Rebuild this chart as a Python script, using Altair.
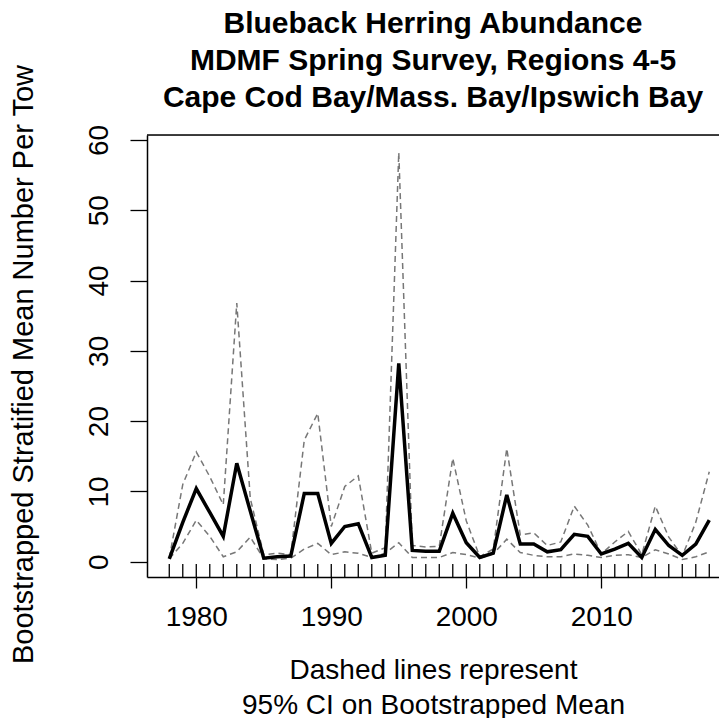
import altair as alt
import pandas as pd

years = list(range(1978, 2019))
mean_vals = [0.4, 5.6, 10.4, 7.0, 3.6, 14.0, 7.2, 0.5, 0.7, 0.8,
             9.7, 9.7, 2.6, 5.0, 5.4, 0.6, 0.9, 28.2, 1.6, 1.5,
             1.5, 6.9, 2.7, 0.6, 1.2, 9.5, 2.5, 2.5, 1.4, 1.7,
             3.9, 3.6, 1.1, 1.8, 2.6, 0.6, 4.6, 2.3, 0.9, 2.5, 5.9]
upper_vals = [0.5, 11.0, 15.6, 12.1, 8.1, 36.8, 9.0, 1.0, 1.2, 1.0,
              17.3, 21.1, 5.0, 10.7, 12.2, 1.2, 2.0, 58.2, 2.3, 2.1,
              2.2, 14.7, 5.8, 0.7, 1.8, 16.1, 3.8, 4.1, 2.3, 2.8,
              7.9, 5.2, 1.1, 2.8, 4.3, 1.0, 7.9, 3.5, 0.8, 5.6, 12.8]
lower_vals = [0.4, 2.6, 5.9, 3.6, 0.7, 1.4, 3.5, 0.4, 0.3, 0.5,
              1.8, 2.6, 1.0, 1.4, 1.2, 0.6, 1.2, 2.7, 0.6, 0.6,
              0.6, 1.3, 1.0, 0.5, 1.1, 3.2, 1.3, 0.9, 0.7, 0.7,
              1.1, 0.9, 0.6, 0.9, 1.0, 0.6, 1.7, 1.1, 0.3, 0.7, 1.4]

x_ticks = [1980, 1990, 2000, 2010]
y_ticks = [0, 10, 20, 30, 40, 50, 60]

title_lines = ["Blueback Herring Abundance",
               "MDMF Spring Survey, Regions 4-5",
               "Cape Cod Bay/Mass. Bay/Ipswich Bay"]
x_title = ["Dashed lines represent", "95% CI on Bootstrapped Mean"]
y_title = "Bootstrapped Stratified Mean Number Per Tow"

W, H = 572, 442
FONT = "Liberation Sans"

df = pd.DataFrame({"year": years, "mean": mean_vals,
                   "upper": upper_vals, "lower": lower_vals})

xscale = alt.Scale(domain=[1976.35, 1976.35 + W / 13.5], nice=False, zero=False)
yscale = alt.Scale(domain=[-2.18, 60.7], nice=False, zero=False)

xaxis = alt.Axis(values=x_ticks, format="d", tickSize=11, tickColor="black",
                 tickWidth=1.3, domainColor="black", domainWidth=1.5,
                 labelFont=FONT, labelFontSize=28, labelColor="black",
                 labelPadding=15, labelFlush=False, labelOverlap=False,
                 grid=False, title=x_title, titleFont=FONT, titleFontSize=28,
                 titleFontWeight="normal", titleColor="black",
                 titleX=W / 2, titleY=79, titleAlign="center",
                 titleBaseline="top", titleLineHeight=35)
yaxis = alt.Axis(values=y_ticks, tickSize=17, tickColor="black",
                 tickWidth=1.3, domainColor="black", domainWidth=1.5,
                 labelFont=FONT, labelFontSize=28, labelColor="black",
                 labelAngle=270, labelAlign="center",
                 labelBaseline="alphabetic", labelPadding=23,
                 labelFlush=False, labelOverlap=False, grid=False,
                 title=y_title, titleFont=FONT, titleFontSize=29,
                 titleFontWeight="normal", titleColor="black",
                 titleAngle=270, titleX=-115, titleY=229,
                 titleAlign="center", titleBaseline="alphabetic")

base = alt.Chart(df)

upper = base.mark_line(color="#777777", strokeWidth=1.5, strokeDash=[6, 4]).encode(
    x=alt.X("year:Q", scale=xscale, axis=xaxis),
    y=alt.Y("upper:Q", scale=yscale, axis=yaxis))
lower = base.mark_line(color="#777777", strokeWidth=1.5, strokeDash=[6, 4]).encode(
    x=alt.X("year:Q", scale=xscale),
    y=alt.Y("lower:Q", scale=yscale))
mean = base.mark_line(color="black", strokeWidth=3.5).encode(
    x=alt.X("year:Q", scale=xscale),
    y=alt.Y("mean:Q", scale=yscale))

minor = base.mark_rule(color="black", strokeWidth=1.3).encode(
    x=alt.X("year:Q", scale=xscale),
    y=alt.value(H - 13), y2=alt.value(H))

top_line = alt.Chart(pd.DataFrame({"a": [0]})).mark_rule(
    color="black", strokeWidth=1.5).encode(
    x=alt.value(0), x2=alt.value(W), y=alt.value(0))

chart = alt.layer(upper, lower, mean, minor, top_line).properties(
    width=W, height=H,
    autosize=alt.AutoSizeParams(type="none"),
    padding={"left": 139, "top": 127, "right": 0, "bottom": 141},
    title=alt.TitleParams(text=title_lines, font=FONT, fontSize=30,
                          fontWeight="bold", color="black", anchor="middle",
                          frame="group", lineHeight=37, baseline="bottom",
                          offset=22, dy=101),
).configure_view(stroke=None).configure(background="white")

chart.save("out.html", embed_options={"renderer": "svg", "actions": False})
